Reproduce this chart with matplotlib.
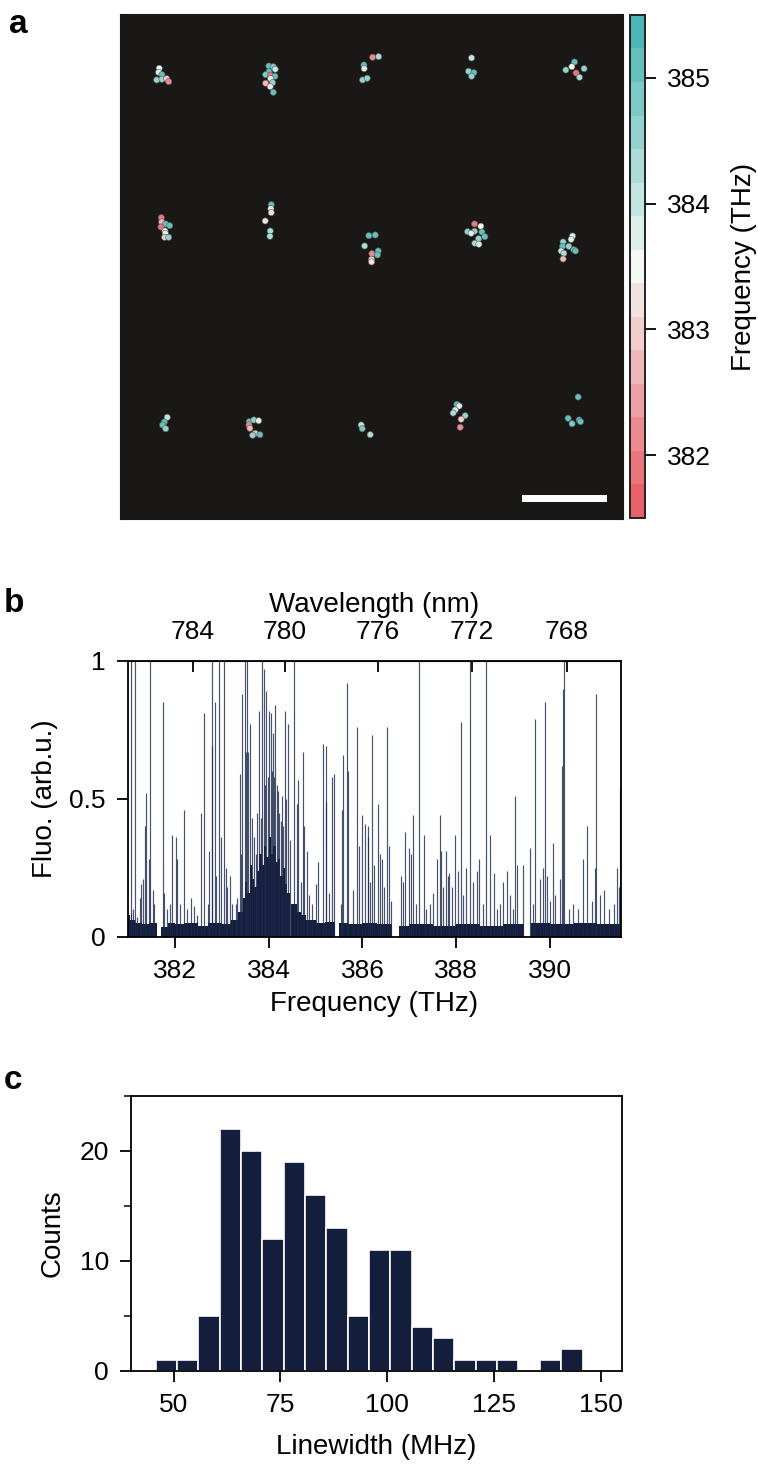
import matplotlib
matplotlib.use('Agg')
from matplotlib import pyplot as plt
from matplotlib.colors import LinearSegmentedColormap, BoundaryNorm
from matplotlib.patches import Rectangle
from matplotlib.ticker import MultipleLocator
import numpy as np

plt.rcParams['font.family'] = ['Liberation Sans', 'DejaVu Sans']

NAVY = '#141f3d'

# ---- panel a: emitter positions (um) and their frequency (THz)
pos_x = [4.62, 4.55, 4.94, 4.32, 4.94, 5.49, 5.73,
         17.53, 18.04, 18.27, 17.53, 17.14, 17.73, 18.24, 17.73, 17.96, 17.14, 17.68, 18.04,
         28.71, 28.74, 28.55, 29.09, 29.73, 30.44,
         41.38, 41.02, 41.65, 41.38,
         53.49, 53.18, 52.47, 54.62, 53.68, 54.08,
         4.86, 4.91, 5.38, 5.85, 4.82, 5.29, 5.33, 5.26, 5.73,
         17.80, 17.76, 17.80, 17.09, 17.68, 17.65,
         29.29, 30.04, 28.79, 30.39, 29.65, 30.31, 29.61, 29.61,
         41.73, 42.47, 40.91, 41.73, 41.33, 42.59, 42.94, 42.20, 41.76, 42.24,
         53.26, 53.09, 52.15, 52.82, 52.08, 53.41, 53.61, 51.92, 52.24, 52.15,
         5.56, 5.21, 5.02, 5.38,
         15.21, 15.76, 16.32, 15.18, 15.29, 15.92, 15.61, 16.47,
         28.39, 28.51, 29.45,
         39.65, 39.92, 39.45, 39.21, 40.62, 40.15, 40.04,
         53.92, 52.74, 53.21, 54.04, 54.20]
pos_y = [53.02, 52.55, 52.27, 51.65, 51.73, 51.80, 51.45,
         53.29, 53.21, 52.91, 52.62, 52.27, 52.20, 52.08, 51.80, 51.33, 51.26, 50.86, 50.20,
         53.41, 52.98, 51.65, 51.85, 54.32, 54.39,
         54.24, 52.67, 52.51, 52.08,
         53.76, 53.21, 52.82, 52.98, 52.47, 51.96,
         35.45, 34.94, 34.71, 34.51, 34.35, 33.88, 33.61, 33.14, 33.14,
         36.98, 36.51, 36.04, 35.06, 33.88, 33.26,
         33.33, 33.41, 32.12, 31.53, 31.21, 31.06, 30.55, 30.24,
         34.71, 34.44, 33.80, 33.85, 33.61, 33.76, 33.21, 32.98, 32.44, 32.32,
         33.29, 32.89, 32.59, 32.08, 32.08, 31.68, 31.53, 31.53, 31.26, 30.59,
         11.96, 11.41, 11.06, 10.62,
         11.45, 11.65, 11.56, 11.06, 10.67, 10.08, 9.85, 9.92,
         11.06, 10.62, 9.92,
         13.49, 13.29, 12.82, 12.47, 12.15, 11.73, 10.79,
         14.35, 11.85, 11.21, 11.65, 11.45]
pos_freq = [383.6, 383.7, 385.1, 384.6, 384.5, 382.9, 382.2,
            385.2, 384.7, 383.9, 385.1, 384.9, 382.0, 385.0, 383.7, 384.6, 382.6, 383.3, 385.0,
            385.2, 383.7, 384.6, 384.5, 382.1, 384.4,
            384.0, 384.6, 385.1, 384.5,
            385.1, 383.6, 384.6, 384.5, 382.0, 384.4,
            382.0, 382.6, 385.1, 385.0, 381.9, 383.6, 383.8, 382.9, 384.6,
            385.1, 383.7, 383.3, 383.1, 384.3, 384.3,
            385.1, 385.1, 384.2, 385.0, 382.2, 385.1, 382.9, 383.2,
            382.0, 383.6, 384.5, 384.6, 383.8, 385.0, 385.1, 384.5, 384.4, 383.7,
            383.7, 383.8, 384.5, 384.6, 385.0, 385.1, 385.0, 384.0, 384.4, 382.8,
            384.0, 385.0, 385.1, 384.5,
            385.0, 384.6, 383.8, 382.2, 382.8, 382.6, 384.5, 385.0,
            383.9, 384.9, 384.2,
            385.0, 383.7, 383.8, 384.4, 384.5, 383.0, 382.1,
            385.0, 385.1, 384.9, 385.1, 385.0]
field_w, field_h = 59.2, 59.4      # um
scalebar_um = 10
cbar_levels = np.linspace(381.5, 385.5, 16)
cbar_ticks = [382, 383, 384, 385]

# ---- panel b: spectrum (THz, arb.u.)
peak_freq = [381.06, 381.08, 381.11, 381.16, 381.20, 381.27, 381.29, 381.32, 381.36, 381.38,
             381.45, 381.48, 381.54, 381.57, 381.75, 381.77, 381.84, 381.90, 381.95, 382.02,
             382.06, 382.12, 382.20, 382.27, 382.34, 382.41, 382.48, 382.57, 382.63, 382.72,
             382.74, 382.79, 382.80, 382.86, 382.89, 382.94, 382.99, 383.05, 383.09, 383.12,
             383.17, 383.23, 383.30, 383.33, 383.39, 383.42, 383.44, 383.50, 383.52, 383.55,
             383.57, 383.60, 383.64, 383.69, 383.73, 383.76, 383.80, 383.83, 383.87, 383.90,
             383.93, 383.95, 383.98, 384.01, 384.05, 384.07, 384.10, 384.12, 384.14, 384.17,
             384.19, 384.23, 384.26, 384.28, 384.31, 384.35, 384.38, 384.42, 384.45, 384.55,
             384.60, 384.62, 384.68, 384.73, 384.75, 384.81, 384.86, 384.93, 385.00, 385.06,
             385.15, 385.22, 385.23, 385.28, 385.36, 385.40, 385.54, 385.57, 385.59, 385.66,
             385.70, 385.79, 385.88, 385.93, 385.99, 386.05, 386.11, 386.12, 386.17, 386.21,
             386.25, 386.33, 386.37, 386.42, 386.46, 386.53, 386.57, 386.61, 386.82, 386.86,
             386.90, 387.00, 387.03, 387.07, 387.14, 387.21, 387.30, 387.35, 387.43, 387.50,
             387.58, 387.65, 387.68, 387.71, 387.77, 387.82, 387.84, 387.90, 387.97, 388.03,
             388.09, 388.15, 388.21, 388.30, 388.36, 388.43, 388.48, 388.56, 388.64, 388.71,
             388.80, 388.86, 388.93, 389.00, 389.07, 389.14, 389.21, 389.25, 389.30, 389.41,
             389.57, 389.64, 389.68, 389.78, 389.84, 389.89, 389.94, 390.00, 390.05, 390.11,
             390.21, 390.25, 390.28, 390.30, 390.39, 390.49, 390.60, 390.69, 390.79, 390.88,
             390.96, 390.97, 391.06, 391.15, 391.24, 391.35, 391.42, 391.47, 391.49]
peak_height = [0.085, 1.0, 0.10, 1.0, 0.07, 0.14, 0.19, 0.21, 0.40, 0.52,
               0.28, 1.0, 0.17, 0.12, 0.85, 0.16, 0.10, 0.12, 0.37, 0.36,
               0.28, 0.12, 0.46, 0.10, 0.14, 0.11, 0.08, 0.45, 0.81, 0.12,
               0.31, 1.0, 0.69, 0.85, 0.22, 1.0, 0.36, 1.0, 0.25, 0.18,
               0.22, 0.12, 0.12, 0.14, 0.59, 0.30, 0.88, 1.0, 0.67, 1.0,
               0.67, 0.77, 0.43, 0.36, 0.30, 0.45, 0.82, 0.43, 1.0, 0.97,
               0.55, 0.89, 0.58, 0.82, 0.81, 0.60, 0.74, 0.58, 0.84, 0.55,
               0.53, 0.45, 0.42, 0.51, 0.40, 0.82, 0.50, 0.77, 0.35, 1.0,
               0.48, 0.57, 0.20, 0.67, 0.40, 0.31, 0.15, 0.12, 0.19, 0.27,
               0.70, 0.49, 0.69, 0.16, 0.58, 0.59, 0.12, 0.46, 0.66, 0.92,
               0.60, 0.17, 0.76, 0.33, 0.44, 0.41, 0.36, 0.40, 0.20, 0.73,
               0.26, 0.48, 0.30, 0.28, 0.18, 0.76, 0.33, 0.13, 0.22, 0.20,
               0.38, 0.32, 0.30, 0.44, 0.12, 1.0, 0.37, 0.10, 0.12, 0.16,
               0.28, 0.44, 0.31, 0.18, 0.31, 0.22, 0.23, 0.18, 0.37, 0.24,
               0.78, 0.15, 0.25, 1.0, 0.20, 0.24, 0.28, 0.12, 1.0, 0.37,
               0.23, 0.10, 0.12, 0.20, 0.24, 0.15, 0.10, 0.51, 0.26, 0.26,
               0.32, 0.12, 0.79, 0.21, 0.25, 0.85, 0.22, 0.13, 0.34, 0.15,
               0.21, 0.62, 0.90, 1.0, 0.10, 0.12, 0.10, 0.28, 0.40, 0.13,
               0.25, 0.88, 0.15, 0.17, 0.10, 0.12, 0.25, 0.18, 0.54]
bg_freq = [381.0, 381.05, 381.15, 381.3, 381.45, 381.62, 381.71, 381.85, 382.0, 382.2,
           382.5, 382.7, 383.0, 383.2, 383.35, 383.45, 383.5, 383.55, 383.6, 383.65,
           383.7, 383.75, 383.8, 383.85, 383.9, 383.95, 384.0, 384.05, 384.1, 384.15,
           384.2, 384.25, 384.3, 384.35, 384.4, 384.46, 384.48, 384.6, 384.7, 384.8,
           385.0, 385.2, 385.41, 385.51, 385.7, 386.0, 386.3, 386.63, 386.78, 387.0,
           387.5, 388.0, 388.5, 389.0, 389.44, 389.58, 390.0, 390.5, 391.0, 391.5]
bg_level = [0.08, 0.06, 0.05, 0.045, 0.05, 0.0, 0.035, 0.05, 0.045, 0.05,
            0.04, 0.05, 0.045, 0.06, 0.09, 0.14, 0.20, 0.16, 0.26, 0.21,
            0.18, 0.24, 0.30, 0.26, 0.33, 0.29, 0.36, 0.30, 0.33, 0.27,
            0.28, 0.22, 0.25, 0.19, 0.16, 0.0, 0.12, 0.09, 0.08, 0.06,
            0.05, 0.055, 0.0, 0.05, 0.045, 0.05, 0.045, 0.0, 0.04, 0.045,
            0.04, 0.045, 0.04, 0.045, 0.0, 0.05, 0.045, 0.05, 0.045, 0.045]
wl_ticks = [784, 780, 776, 772, 768]
C_NM_THZ = 299792.458

# ---- panel c: linewidth histogram
lw_centers = [48.25, 53.25, 58.25, 63.25, 68.25, 73.25, 78.25, 83.25, 88.25, 93.25,
              98.25, 103.25, 108.25, 113.25, 118.25, 123.25, 128.25, 133.25, 138.25, 143.25]
lw_counts = [1, 1, 5, 22, 20, 12, 19, 16, 13, 5, 11, 11, 4, 3, 1, 1, 1, 0, 1, 2]

fig = plt.figure(figsize=(7.58, 14.64), dpi=100)

# ---------------- a
ax_a = fig.add_axes([0.1583, 0.6455, 0.6636, 0.3449])
ax_a.set_facecolor('#191817')
cmap = LinearSegmentedColormap.from_list('rw_teal', ['#e8606a', '#f4f8f2', '#4db6b4'], N=15)
norm = BoundaryNorm(cbar_levels, cmap.N)
sc = ax_a.scatter(pos_x, pos_y, c=pos_freq, cmap=cmap, norm=norm, s=20,
                  edgecolors='#5a5a5a', linewidths=0.4, zorder=3)
ax_a.add_patch(Rectangle((field_w - 1.9 - scalebar_um, 1.96), scalebar_um, 0.86,
                         facecolor='white', edgecolor='none'))
ax_a.set_xlim(0, field_w)
ax_a.set_ylim(0, field_h)
ax_a.set_xticks([])
ax_a.set_yticks([])
for s in ax_a.spines.values():
    s.set_color('#191817')

cax = fig.add_axes([0.8311, 0.6462, 0.0198, 0.3436])
cbar = fig.colorbar(sc, cax=cax, ticks=cbar_ticks)
cbar.outline.set_linewidth(1.4)
cbar.outline.set_edgecolor('#222222')
cax.minorticks_off()
cax.tick_params(length=8, width=1.3, labelsize=19, pad=8)
cbar.set_label('Frequency (THz)', fontsize=20, labelpad=14)

# ---------------- b
ax_b = fig.add_axes([0.1685, 0.3602, 0.6504, 0.1883])
ax_b.fill_between(bg_freq, bg_level, step='post', color=NAVY, linewidth=0)
ax_b.vlines(peak_freq, 0, peak_height, color='#1c2748', linewidth=0.85, alpha=0.8)
ax_b.set_xlim(381, 391.5)
ax_b.set_ylim(0, 1)
ax_b.set_xticks([382, 384, 386, 388, 390])
ax_b.set_yticks([0, 0.5, 1])
ax_b.set_yticklabels(['0', '0.5', '1'])
ax_b.tick_params(direction='out', length=8, width=1.3, labelsize=19, pad=8)
ax_b.set_xlabel('Frequency (THz)', fontsize=20, labelpad=6)
ax_b.set_ylabel('Fluo. (arb.u.)', fontsize=20, labelpad=8)

top = ax_b.secondary_xaxis('top', functions=(lambda f: C_NM_THZ / np.clip(f, 1e-6, None),
                                              lambda w: C_NM_THZ / np.clip(w, 1e-6, None)))
top.set_xticks(wl_ticks)
top.tick_params(direction='in', length=8, width=1.3, labelsize=19, pad=12)
top.set_xlabel('Wavelength (nm)', fontsize=20, labelpad=6)
for s in ax_b.spines.values():
    s.set_linewidth(1.3)

# ---------------- c
ax_c = fig.add_axes([0.1728, 0.0637, 0.6478, 0.1878])
ax_c.bar(lw_centers, lw_counts, width=5, color=NAVY, edgecolor='white', linewidth=1.2)
ax_c.set_xlim(40, 155)
ax_c.set_ylim(0, 25)
ax_c.set_xticks([50, 75, 100, 125, 150])
ax_c.set_yticks([0, 10, 20])
ax_c.yaxis.set_minor_locator(MultipleLocator(5))
ax_c.tick_params(direction='out', length=8, width=1.3, labelsize=19, pad=8)
ax_c.tick_params(which='minor', direction='out', length=5, width=1.1)
ax_c.set_xlabel('Linewidth (MHz)', fontsize=20, labelpad=12)
ax_c.set_ylabel('Counts', fontsize=20, labelpad=10)
for s in ax_c.spines.values():
    s.set_linewidth(1.3)

fig.text(0.012, 0.983, 'a', fontsize=24, fontweight='bold', va='center')
fig.text(0.005, 0.588, 'b', fontsize=24, fontweight='bold', va='center')
fig.text(0.005, 0.262, 'c', fontsize=24, fontweight='bold', va='center')

fig.savefig('out.png', dpi=100)
